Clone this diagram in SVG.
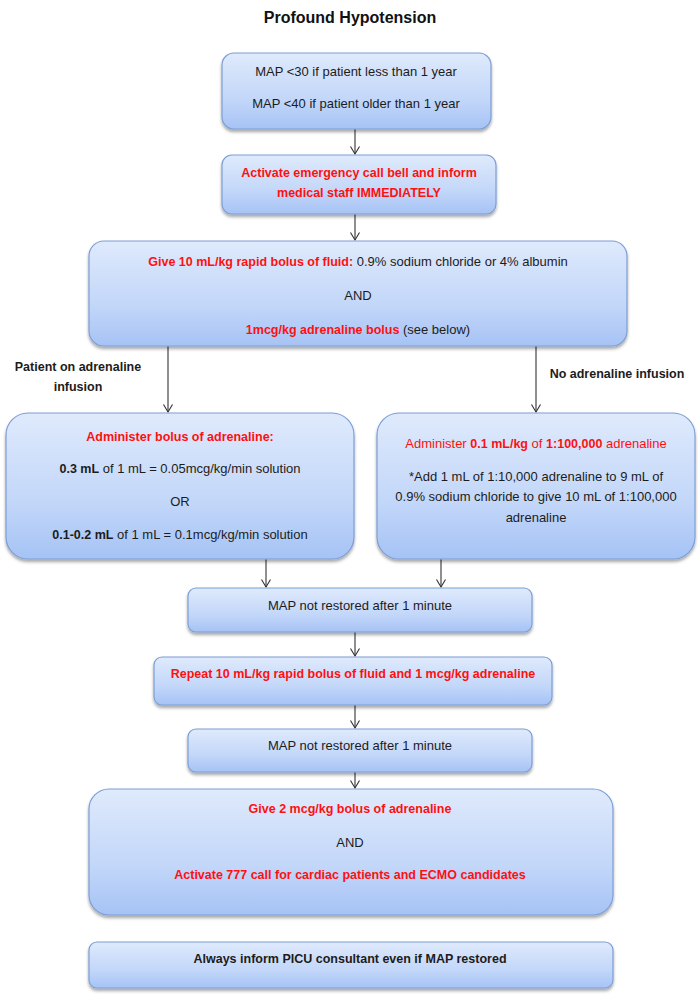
<svg xmlns="http://www.w3.org/2000/svg" width="700" height="996" viewBox="0 0 700 996">
<defs>
<linearGradient id="g" x1="0" y1="0" x2="0" y2="1">
<stop offset="0" stop-color="#dfeafc"/>
<stop offset="0.6" stop-color="#c3d7f9"/>
<stop offset="1" stop-color="#a6c3f5"/>
</linearGradient>
<filter id="sh" x="-5%" y="-10%" width="110%" height="130%">
<feDropShadow dx="0" dy="2.5" stdDeviation="1.8" flood-color="#000" flood-opacity="0.35"/>
</filter>
<marker id="ah" markerWidth="12" markerHeight="12" refX="10" refY="6" orient="auto" markerUnits="userSpaceOnUse" viewBox="0 0 12 12">
<path d="M2.5,1.5 L10,6 L2.5,10.5" fill="none" stroke="#333" stroke-width="1.1"/>
</marker>
</defs>
<style>
.box{fill:url(#g);stroke:#7c9ed6;stroke-width:1.2;filter:url(#sh)}
text{font-family:"Liberation Sans",Arial,sans-serif;font-size:13px;fill:#1c1c1c;text-anchor:middle}
.b{font-weight:bold;font-size:12.5px}
.r{fill:#ff1010}
.title{font-weight:bold;font-size:16px;fill:#111}
.lbl{font-weight:bold;font-size:12.5px;fill:#1c1c1c}
.con line{stroke:#333;stroke-width:1.1;marker-end:url(#ah)}
</style>
<rect width="700" height="996" fill="#fff"/>
<text class="title" x="350" y="23">Profound Hypotension</text>

<g class="con" id="connectors">
<line x1="355" y1="129" x2="355" y2="154"/>
<line x1="355" y1="214" x2="355" y2="240"/>
<line x1="168" y1="346" x2="168" y2="412"/>
<line x1="536" y1="346" x2="536" y2="412"/>
<line x1="266" y1="559" x2="266" y2="587"/>
<line x1="441" y1="559" x2="441" y2="587"/>
<line x1="355" y1="632" x2="355" y2="656"/>
<line x1="355" y1="705" x2="355" y2="728"/>
<line x1="355" y1="772" x2="355" y2="788"/>
</g>

<g id="lbl-left">
<text class="lbl" x="78" y="370.5">Patient on adrenaline</text>
<text class="lbl" x="78" y="390.5">infusion</text>
</g>
<g id="lbl-right">
<text class="lbl" x="617" y="377.5">No adrenaline infusion</text>
</g>

<g id="n1">
<rect class="box" x="222" y="53" width="269" height="76" rx="12"/>
<text x="356" y="75.5">MAP &lt;30 if patient less than 1 year</text>
<text x="356" y="107.5">MAP &lt;40 if patient older than 1 year</text>
</g>

<g id="n2">
<rect class="box" x="222" y="155" width="274" height="59" rx="10"/>
<text class="b r" x="359" y="176.5">Activate emergency call bell and inform</text>
<text class="b r" x="359" y="196.5">medical staff IMMEDIATELY</text>
</g>

<g id="n3">
<rect class="box" x="89" y="241" width="538" height="105" rx="15"/>
<text x="358" y="265.5"><tspan class="b r">Give 10 mL/kg rapid bolus of fluid:</tspan> 0.9% sodium chloride or 4% albumin</text>
<text x="358" y="299.5">AND</text>
<text x="358" y="333.5"><tspan class="b r">1mcg/kg adrenaline bolus</tspan> (see below)</text>
</g>

<g id="n4">
<rect class="box" x="6" y="413" width="348" height="146" rx="22"/>
<text class="b r" x="180" y="440.5">Administer bolus of adrenaline:</text>
<text x="180" y="472.5"><tspan class="b">0.3 mL</tspan> of 1 mL = 0.05mcg/kg/min solution</text>
<text x="180" y="505.5">OR</text>
<text x="180" y="538.5"><tspan class="b">0.1-0.2 mL</tspan> of 1 mL = 0.1mcg/kg/min solution</text>
</g>

<g id="n5">
<rect class="box" x="377" y="413" width="318" height="146" rx="22"/>
<text class="r" x="536" y="447.5">Administer <tspan class="b r">0.1 mL/kg</tspan> of <tspan class="b r">1:100,000</tspan> adrenaline</text>
<text x="536" y="480.5">*Add 1 mL of 1:10,000 adrenaline to 9 mL of</text>
<text x="536" y="501">0.9% sodium chloride to give 10 mL of 1:100,000</text>
<text x="536" y="521.5">adrenaline</text>
</g>

<g id="n6">
<rect class="box" x="188" y="588" width="344" height="44" rx="8"/>
<text x="360" y="609.5">MAP not restored after 1 minute</text>
</g>

<g id="n7">
<rect class="box" x="154" y="657" width="398" height="48" rx="8"/>
<text class="b r" x="353" y="677.5">Repeat 10 mL/kg rapid bolus of fluid and 1 mcg/kg adrenaline</text>
</g>

<g id="n8">
<rect class="box" x="188" y="729" width="344" height="43" rx="8"/>
<text x="360" y="749.5">MAP not restored after 1 minute</text>
</g>

<g id="n9">
<rect class="box" x="89" y="789" width="524" height="126" rx="20"/>
<text class="b r" x="350" y="812.5">Give 2 mcg/kg bolus of adrenaline</text>
<text x="350" y="846.5">AND</text>
<text class="b r" x="350" y="878.5">Activate 777 call for cardiac patients and ECMO candidates</text>
</g>

<g id="n10">
<rect class="box" x="89" y="942" width="524" height="46" rx="8"/>
<text class="b" x="350" y="962.5">Always inform PICU consultant even if MAP restored</text>
</g>
</svg>
